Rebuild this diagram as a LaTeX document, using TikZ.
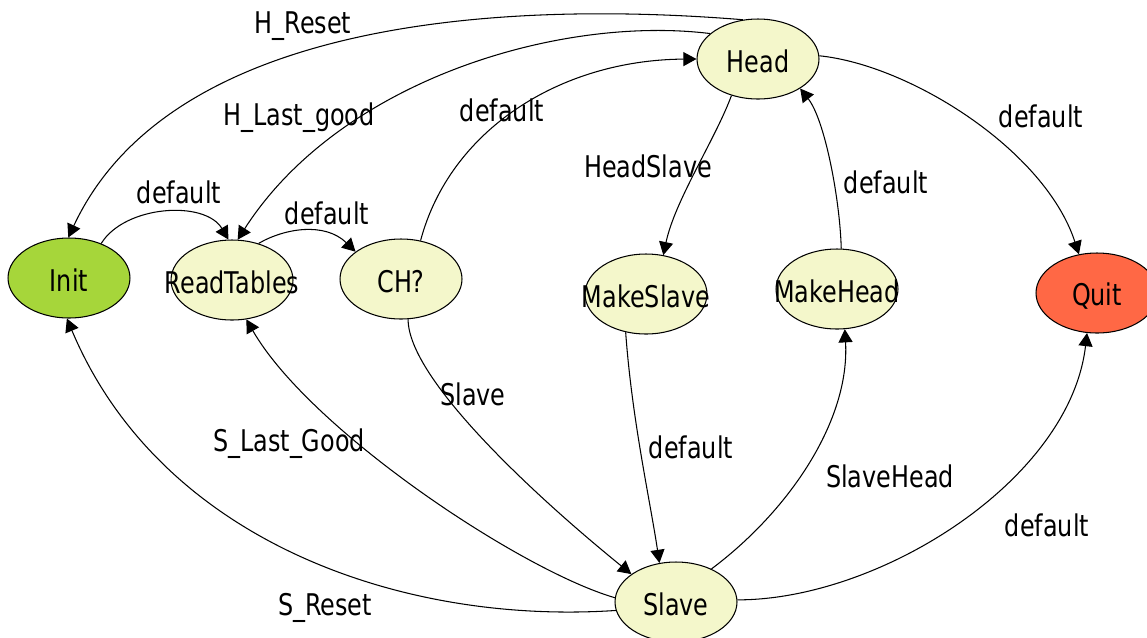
\documentclass[tikz,border=0pt]{standalone}
\usepackage{fontspec}
\setmainfont{DejaVu Sans}[FakeStretch=0.8]
\usepackage{xcolor}
\usepackage{tikz}
\usetikzlibrary{arrows.meta,shapes.geometric}
\definecolor{statefill}{RGB}{244,247,203}
\definecolor{initfill}{RGB}{166,214,58}
\definecolor{quitfill}{RGB}{255,104,69}

\begin{document}
\begin{tikzpicture}[x=0.02cm,y=-0.02cm,
  state/.style={ellipse,draw,line width=0.6pt,fill=statefill,minimum width=2.44cm,
    minimum height=1.6cm,inner sep=0pt,
    label={[lbl,yshift=-1.5pt]center:#1}},
  lbl/.style={inner sep=0pt,font=\fontsize{17}{20}\selectfont},
  trans/.style={line width=0.6pt,-{Triangle[length=7.5pt,width=8pt]}}]
\useasboundingbox (0,0) rectangle (1147,637);

% states
\node[state=Init,fill=initfill] (Init) at (69,278) {};
\node[state=ReadTables] (ReadTables) at (232,280) {};
\node[state=CH?] (CH) at (401,279) {};
\node[state=Head] (Head) at (758,59) {};
\node[state=MakeSlave] (MakeSlave) at (646,294) {};
\node[state=MakeHead] (MakeHead) at (837,289) {};
\node[state=Quit,fill=quitfill] (Quit) at (1097,293) {};
\node[state=Slave] (Slave) at (676,602) {};

% transitions
\draw[trans] (Head.111) .. controls (500,0) and (170,20) .. (Init.91);
\draw[trans] (Head.152) .. controls (560,15) and (340,80) .. (ReadTables.82);
\draw[trans] (CH.63) .. controls (450,130) and (560,60) .. (Head.180);
\draw[trans] (Init.47) .. controls (125,205) and (205,200) .. (ReadTables.95);
\draw[trans] (ReadTables.54) .. controls (285,228) and (325,222) .. (CH.149);
\draw[trans] (Head.234) .. controls (715,140) and (675,200) .. (MakeSlave.66);
\draw[trans] (MakeHead.84) .. controls (840,200) and (825,120) .. (Head.-35);
\draw[trans] (Head.3) .. controls (910,65) and (1045,150) .. (Quit.115);
\draw[trans] (CH.280) .. controls (408,380) and (540,500) .. (Slave.148);
\draw[trans] (MakeSlave.242) .. controls (632,420) and (650,500) .. (Slave.113);
\draw[trans] (Slave.43) .. controls (790,510) and (850,420) .. (MakeHead.281);
\draw[trans] (Slave.2) .. controls (880,600) and (1070,480) .. (Quit.256);
\draw[trans] (Slave.188) .. controls (400,625) and (160,540) .. (Init.267);
\draw[trans] (Slave.176) .. controls (520,570) and (310,430) .. (ReadTables.290);

% labels
\node[lbl] (lHReset) at (303,26) {H\_Reset};
\node[lbl] (lHLast) at (299,118) {H\_Last\_good};
\node[lbl] (lCHHead) at (502,110) {default};
\node[lbl] (lInitRT) at (179,192) {default};
\node[lbl] (lRTCH) at (327,213) {default};
\node[lbl] (lHeadSlave) at (648,166) {HeadSlave};
\node[lbl] (lMHHead) at (886,182) {default};
\node[lbl] (lHeadQuit) at (1041,116) {default};
\node[lbl] (lSlave) at (473,394) {Slave};
\node[lbl] (lSLast) at (289,444) {S\_Last\_Good};
\node[lbl] (lMSSlave) at (691,447) {default};
\node[lbl] (lSlaveHead) at (890,476) {SlaveHead};
\node[lbl] (lSlaveQuit) at (1047,525) {default};
\node[lbl] (lSReset) at (325,608) {S\_Reset};
\end{tikzpicture}
\end{document}
